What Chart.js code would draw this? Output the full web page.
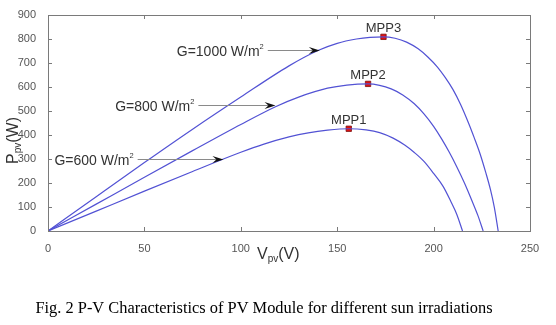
<!DOCTYPE html>
<html><head><meta charset="utf-8">
<script src="https://cdn.jsdelivr.net/npm/chart.js@4/dist/chart.umd.min.js"></script>
<style>html,body{margin:0;padding:0;background:#fff;}#wrap{position:relative;width:556px;height:325px;}</style>
</head><body><div id="wrap"><canvas id="c" width="556" height="325"></canvas></div>
<script>
// P-V curves of the PV module at three irradiance levels (V in volts, P in watts)
const vG600  = [0, 25, 50, 75, 100, 112, 125, 135, 145, 156, 165, 172, 179, 185, 190, 195, 200, 205, 209, 212, 215];
const pG600  = [0, 83, 166, 248, 328, 362, 392, 409, 420, 426, 421, 410, 387, 358, 327, 290, 240, 185, 122, 70, 0];
const vG800  = [0, 25, 50, 75, 100, 118, 130, 145, 155, 166, 172, 178, 184, 190, 195, 200, 204, 208, 212, 216, 220, 223, 225.7];
const pG800  = [0, 112, 224, 335, 444, 518, 558, 595, 608, 613, 607, 592, 567, 530, 488, 436, 386, 330, 268, 200, 124, 64, 0];
const vG1000 = [0, 25, 50, 75, 100, 125, 140, 150, 160, 167, 174, 180, 186, 192, 197, 202, 206, 210, 214, 218, 221, 224, 227, 229.5, 231.5, 233.5];
const pG1000 = [0, 143, 285, 424, 558, 688, 752, 782, 800, 807, 809, 803, 787, 759, 725, 683, 640, 590, 527, 452, 390, 324, 245, 172, 98, 0];

// Maximum power points
const mppNames = ['MPP1', 'MPP2', 'MPP3'];
const mppV = [156, 166, 174];
const mppP = [426, 613, 809];

// Irradiance callouts: label, arrow tip (on the curve) and arrow tail, in data units
const gNames = ['G=1000 W/m', 'G=800 W/m', 'G=600 W/m'];
const gTipV  = [141, 118, 91];
const gTipP  = [755, 523, 300];
const gTailV = [114, 78, 46.5];

// Axis ticks
const xTicks = [0, 50, 100, 150, 200, 250];
const yTicks = [0, 100, 200, 300, 400, 500, 600, 700, 800, 900];

const caption = 'Fig. 2 P-V Characteristics of PV Module for different sun irradiations';

const SANS = "'Liberation Sans', Arial, Helvetica, sans-serif";
const SERIF = "'Liberation Serif', 'Times New Roman', serif";
const LINE = 'rgb(82,82,212)';

const pts = (vs, ps) => vs.map((v, i) => ({x: v, y: ps[i]}));
const curve = (vs, ps) => ({
  data: pts(vs, ps), showLine: true, borderColor: LINE, borderWidth: 1.2,
  pointRadius: 0, cubicInterpolationMode: 'monotone', fill: false
});

const decor = {
  id: 'decor',
  afterDatasetsDraw(chart) {
    const {ctx, chartArea: a, scales: {x, y}} = chart;
    ctx.save();
    // frame
    ctx.strokeStyle = '#7a7a7a'; ctx.lineWidth = 1;
    ctx.strokeRect(Math.round(a.left) + 0.5, Math.round(a.top) + 0.5,
                   Math.round(a.right - a.left), Math.round(a.bottom - a.top));
    // inward tick marks on all four sides
    ctx.beginPath();
    xTicks.forEach(t => {
      const px = Math.round(x.getPixelForValue(t)) + 0.5;
      ctx.moveTo(px, a.bottom); ctx.lineTo(px, a.bottom - 4);
      ctx.moveTo(px, a.top); ctx.lineTo(px, a.top + 4);
    });
    yTicks.forEach(t => {
      const py = Math.round(y.getPixelForValue(t)) + 0.5;
      ctx.moveTo(a.left, py); ctx.lineTo(a.left + 4, py);
      ctx.moveTo(a.right, py); ctx.lineTo(a.right - 4, py);
    });
    ctx.stroke();

    // irradiance callouts with arrows
    gNames.forEach((name, i) => {
      const tx = x.getPixelForValue(gTipV[i]);
      const ty = Math.round(y.getPixelForValue(gTipP[i])) + 0.5;
      const sx = x.getPixelForValue(gTailV[i]);
      ctx.strokeStyle = '#8a8a8a'; ctx.lineWidth = 1.2;
      ctx.beginPath(); ctx.moveTo(sx, ty); ctx.lineTo(tx - 6, ty); ctx.stroke();
      ctx.fillStyle = '#111';
      ctx.beginPath();
      ctx.moveTo(tx, ty); ctx.lineTo(tx - 11, ty - 3.5); ctx.lineTo(tx - 7, ty);
      ctx.lineTo(tx - 11, ty + 3.5); ctx.closePath(); ctx.fill();
      ctx.fillStyle = '#333';
      ctx.font = '7.5px ' + SANS; ctx.textBaseline = 'alphabetic'; ctx.textAlign = 'right';
      const supW = ctx.measureText('2').width;
      const right = sx - 4;
      ctx.fillText('2', right, ty - 1.5);
      ctx.font = '14px ' + SANS;
      ctx.fillText(name, right - supW, ty + 5);
    });

    // MPP labels above the markers
    ctx.fillStyle = '#333'; ctx.font = '13px ' + SANS;
    ctx.textAlign = 'center'; ctx.textBaseline = 'alphabetic';
    mppNames.forEach((n, i) => {
      ctx.fillText(n, x.getPixelForValue(mppV[i]), y.getPixelForValue(mppP[i]) - 5);
    });

    // x axis title V_pv(V)
    const cx = (a.left + a.right) / 2 - 32, by = 259;
    ctx.fillStyle = '#333'; ctx.textAlign = 'left';
    ctx.font = '16px ' + SANS; ctx.fillText('V', cx, by);
    let w = ctx.measureText('V').width;
    ctx.font = '10px ' + SANS; ctx.fillText('pv', cx + w, by + 3);
    w += ctx.measureText('pv').width;
    ctx.font = '16px ' + SANS; ctx.fillText('(V)', cx + w, by);

    // y axis title P_pv(W), rotated
    ctx.save();
    ctx.translate(18, 164); ctx.rotate(-Math.PI / 2);
    ctx.font = '16px ' + SANS; ctx.fillText('P', 0, 0);
    w = ctx.measureText('P').width;
    ctx.font = '10px ' + SANS; ctx.fillText('pv', w, 3);
    w += ctx.measureText('pv').width;
    ctx.font = '16px ' + SANS; ctx.fillText('(W)', w, 0);
    ctx.restore();

    // caption
    ctx.fillStyle = '#000'; ctx.font = '16.4px ' + SERIF; ctx.textAlign = 'center';
    ctx.fillText(caption, 264, 313);
    ctx.restore();
  }
};

new Chart(document.getElementById('c'), {
  type: 'scatter',
  data: {
    datasets: [
      curve(vG1000, pG1000),
      curve(vG800, pG800),
      curve(vG600, pG600),
      {
        data: pts(mppV, mppP), showLine: false, pointStyle: 'rect',
        pointRadius: 3.8, backgroundColor: '#e01010', borderColor: '#7a1010', borderWidth: 0.8
      }
    ]
  },
  options: {
    responsive: false, animation: false, devicePixelRatio: 1,
    layout: {padding: {left: 0, top: 15, right: 26, bottom: 0}},
    plugins: {legend: {display: false}, tooltip: {enabled: false}},
    scales: {
      x: {
        type: 'linear', min: 0, max: 250,
        afterBuildTicks: s => { s.ticks = xTicks.map(v => ({value: v})); },
        afterFit: s => { s.height = 94; },
        grid: {display: false}, border: {display: false},
        ticks: {color: '#555', font: {family: SANS, size: 11}, padding: 3, maxRotation: 0}
      },
      y: {
        type: 'linear', min: 0, max: 900,
        afterBuildTicks: s => { s.ticks = yTicks.map(v => ({value: v})); },
        afterFit: s => { s.width = 48; },
        grid: {display: false}, border: {display: false},
        ticks: {color: '#555', font: {family: SANS, size: 11}, padding: 4}
      }
    }
  },
  plugins: [decor]
});
</script></body></html>
